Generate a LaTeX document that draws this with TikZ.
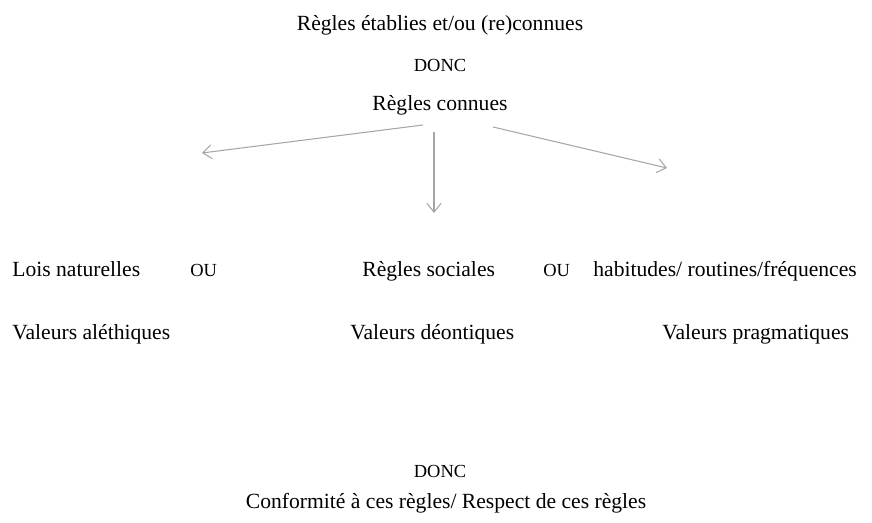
\documentclass[tikz,border=0pt]{standalone}
\usepackage{fontspec}
\setmainfont{Liberation Serif}
\usetikzlibrary{arrows.meta}

\begin{document}
\begin{tikzpicture}[x=0.02cm, y=-0.02cm, every node/.style={font=\fontsize{12.3}{14}\selectfont, inner sep=0pt}]
  \useasboundingbox (0,0) rectangle (872,523);
  % Top of the scheme
  \node (etablies) at (440,25) {Règles établies et/ou (re)connues};
  \node[font=\fontsize{10.5}{12}\selectfont] (donchaut) at (440,65) {DONC};
  \node (connues) at (440,105) {Règles connues};

  % Three kinds of rules
  \node[anchor=base west] (lois) at (12,277) {Lois naturelles};
  \node[anchor=base west, font=\fontsize{10.5}{12}\selectfont] (ougauche) at (190,277) {OU};
  \node[anchor=base west] (sociales) at (362,277) {Règles sociales};
  \node[anchor=base west, font=\fontsize{10.5}{12}\selectfont] (oudroite) at (543,277) {OU};
  \node[anchor=base west] (habitudes) at (593,277) {habitudes/ routines/fréquences};

  % Values
  \node[anchor=base west] (alethiques) at (12,340) {Valeurs aléthiques};
  \node[anchor=base west] (deontiques) at (350,340) {Valeurs déontiques};
  \node[anchor=base west] (pragmatiques) at (662,340) {Valeurs pragmatiques};

  % Bottom of the scheme
  \node[font=\fontsize{10.5}{12}\selectfont] (doncbas) at (440,471) {DONC};
  \node (conformite) at (446,503) {Conformité à ces règles/ Respect de ces règles};

  % Arrows from the known rules
  \coordinate (departg) at (423,125);
  \coordinate (departm) at (434,132);
  \coordinate (departd) at (493,127);
  \coordinate (pointeg) at (202,153);
  \coordinate (pointem) at (434,213);
  \coordinate (pointed) at (667,168);
  \draw[-{Straight Barb[length=5pt, width=8pt]}, gray!70, line width=0.6pt] (departg) -- (pointeg);
  \draw[-{Straight Barb[length=5pt, width=8pt]}, gray!70, line width=0.6pt] (departm) -- (pointem);
  \draw[-{Straight Barb[length=5pt, width=8pt]}, gray!70, line width=0.6pt] (departd) -- (pointed);
\end{tikzpicture}
\end{document}
